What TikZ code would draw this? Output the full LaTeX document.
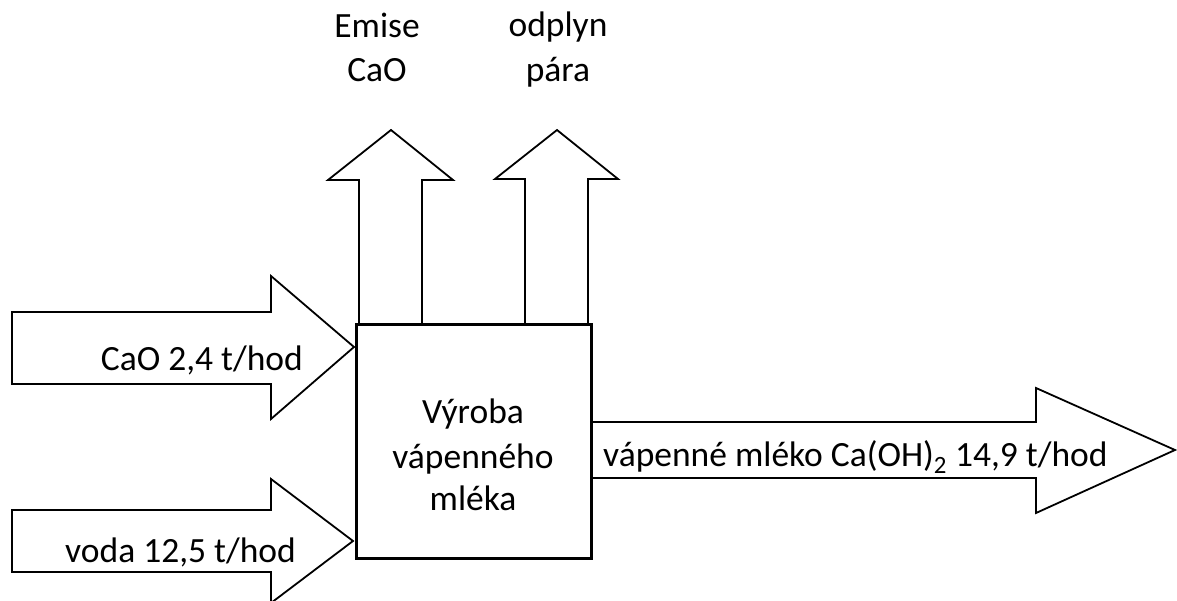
\documentclass[tikz,border=0pt]{standalone}
\usepackage{fontspec}
\setmainfont{Carlito}
\tikzset{
  flow/.style={draw=black, line width=1.8pt, fill=white, line join=miter},
  unit/.style={draw=black, line width=3pt, fill=white},
  lbl/.style={inner sep=0pt, font=\fontsize{35.5}{44}\selectfont, text=black},
}
\begin{document}
\begin{tikzpicture}[x=1pt, y=-1pt]
  \useasboundingbox (0,0) rectangle (1177,601);
  \clip (0,0) rectangle (1177,601);

  % inflow arrows on the left
  \draw[flow] (12,312) -- (271,312) -- (271,276) -- (354,347) -- (271,419) -- (271,384) -- (12,384) -- cycle;
  \draw[flow] (12,510) -- (271,510) -- (271,479) -- (353,541) -- (271,603) -- (271,572) -- (12,572) -- cycle;

  % outflow arrows on top
  \draw[flow] (359,324) -- (359,180) -- (328,180) -- (391,130) -- (453,180) -- (422,180) -- (422,324);
  \draw[flow] (525,324) -- (525,179) -- (495,179) -- (557,130) -- (618,179) -- (588,179) -- (588,324);

  % product arrow on the right
  \draw[flow] (591,422) -- (1036,422) -- (1036,388) -- (1175,450) -- (1036,513) -- (1036,478) -- (591,478);

  % process unit
  \draw[unit] (356,325) rectangle (591,558);

  % labels
  \node[lbl, anchor=base east] (cao) at (303,370) {CaO 2,4 t/hod};
  \node[lbl, anchor=base east] (voda) at (296,562) {voda 12,5 t/hod};
  \node[lbl, anchor=base west] (mleko) at (603,466) {vápenné mléko Ca(OH)\textsubscript{2} 14,9 t/hod};
  \node[lbl, anchor=base] (em1) at (377,38) {Emise};
  \node[lbl, anchor=base] (em2) at (377,82) {CaO};
  \node[lbl, anchor=base] (od1) at (558,37) {odplyn};
  \node[lbl, anchor=base] (od2) at (558,82) {pára};
  \node[lbl, anchor=base] (v1) at (473,423) {Výroba};
  \node[lbl, anchor=base] (v2) at (473,468) {vápenného};
  \node[lbl, anchor=base] (v3) at (473,510) {mléka};
\end{tikzpicture}
\end{document}
